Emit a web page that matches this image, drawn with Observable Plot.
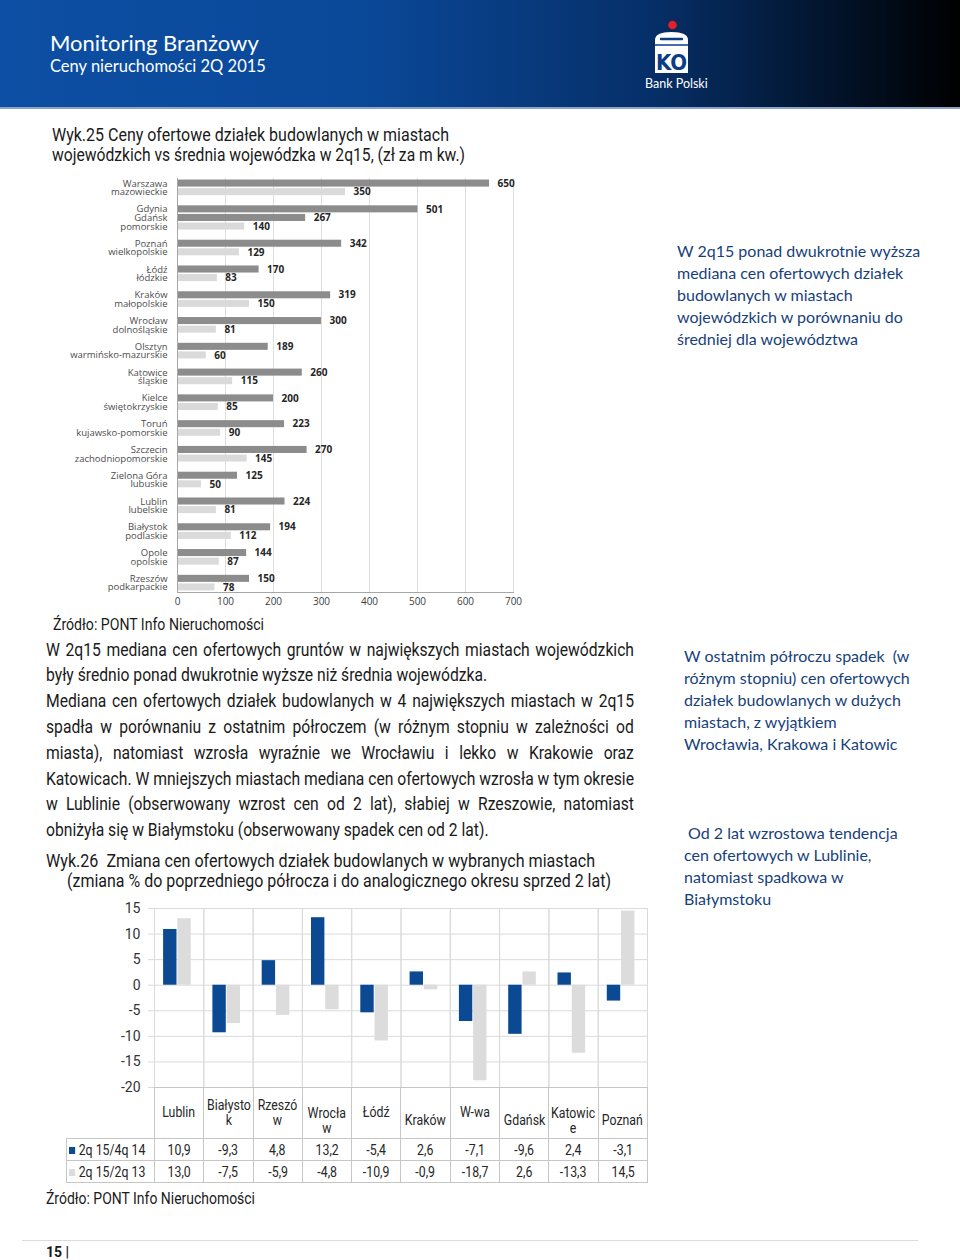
<!DOCTYPE html>
<html><head><meta charset="utf-8">
<script src="https://cdn.jsdelivr.net/npm/d3@7"></script>
<script src="https://cdn.jsdelivr.net/npm/@observablehq/plot@0.6"></script>
<style>
body{margin:0;background:#fff;}
#page{position:relative;width:960px;height:1260px;overflow:hidden;font-family:Roboto,"Open Sans",sans-serif;color:#1a1a1a;}
.abs{position:absolute;}
#header{left:0;top:0;width:960px;height:107px;background:linear-gradient(90deg,#0d4fa4 0%,#0a4898 38%,#062f68 68%,#000 100%);border-bottom:2px solid #8aa3c6;}
.hd{color:#fff;font-family:Lato,"Open Sans",sans-serif;white-space:nowrap;}
.fit{display:inline-block;white-space:nowrap;transform-origin:0 0;}
.title{font-size:18px;line-height:20px;}
.src{font-size:16px;line-height:20px;}
#body{left:46px;font-size:18px;line-height:25.8px;transform-origin:0 0;}
#body .line{white-space:nowrap;}
#body .j{display:flex;justify-content:space-between;}
.blue{font-family:Lato,"Open Sans",sans-serif;color:#173f7a;font-size:16px;line-height:22px;white-space:pre;}
#tbl{left:66px;top:1087px;width:581px;border-collapse:collapse;table-layout:fixed;font-size:14px;color:#262626;}
#tbl td{border:1px solid #c6c6c6;text-align:center;padding:0;white-space:nowrap;overflow:visible;}
#tbl td span.t{display:inline-block;transform:scaleX(0.88);}
#tbl td div.hc{height:50px;box-sizing:border-box;display:flex;flex-direction:column;justify-content:center;align-items:center;line-height:15.5px;}
#tbl tr.v td{height:21px;line-height:20px;}
#tbl td.lab{text-align:left;padding-left:2px;}
#tbl td.lab span.t{transform-origin:0 50%;}
.sq{display:inline-block;width:7px;height:7px;margin-right:4px;vertical-align:1px;}
</style>
</head><body>
<div id="page">
  <div id="header" class="abs"></div>
  <div class="abs hd" style="left:50px;top:30px;font-size:22px;line-height:26px;">Monitoring Branżowy</div>
  <div class="abs hd" style="left:50px;top:56px;font-size:16.5px;line-height:20px;">Ceny nieruchomości 2Q 2015</div>
  <svg class="abs" style="left:650px;top:18px" width="45" height="58" viewBox="0 0 45 58">
    <circle cx="22.5" cy="7" r="4.3" fill="#e3202a"/>
    <path d="M5,22 Q5,14 21.5,14 Q38,14 38,22 L38,55 L5,55 Z" fill="#fff"/>
    <path d="M11,21 L32,21" stroke="#0a3d86" stroke-width="2.4" stroke-linecap="round"/>
    <path d="M5,27 L38,27" stroke="#0a3d86" stroke-width="1.6"/>
    <text x="21.5" y="52" text-anchor="middle" font-family="DejaVu Sans Condensed, Roboto, sans-serif" font-weight="bold" font-size="22" fill="#0a3d86">KO</text>
  </svg>
  <div class="abs hd" style="left:645px;top:76px;font-size:12.5px;line-height:16px;">Bank Polski</div>

  <div class="abs title" style="left:52px;top:125px;"><span class="fit" data-w="397">Wyk.25 Ceny ofertowe działek budowlanych w miastach</span></div>
  <div class="abs title" style="left:52px;top:145px;"><span class="fit" data-w="413">wojewódzkich vs średnia wojewódzka w 2q15, (zł za m kw.)</span></div>
  <div id="chart25" class="abs" style="left:50px;top:172px;"></div>
  <div class="abs src" style="left:53px;top:615px;"><span class="fit" data-w="211">Źródło: PONT Info Nieruchomości</span></div>

  <div id="body" class="abs" style="top:636.6px;">
    <div class="line j">W 2q15 mediana cen ofertowych gruntów w największych miastach wojewódzkich</div>
    <div class="line">były średnio ponad dwukrotnie wyższe niż średnia wojewódzka.</div>
    <div class="line j">Mediana cen ofertowych działek budowlanych w 4 największych miastach w 2q15</div>
    <div class="line j">spadła w porównaniu z ostatnim półroczem (w różnym stopniu w zależności od</div>
    <div class="line j">miasta), natomiast wzrosła wyraźnie we Wrocławiu i lekko w Krakowie oraz</div>
    <div class="line j ref">Katowicach. W mniejszych miastach mediana cen ofertowych wzrosła w tym okresie</div>
    <div class="line j">w Lublinie (obserwowany wzrost cen od 2 lat), słabiej w Rzeszowie, natomiast</div>
    <div class="line">obniżyła się w Białymstoku (obserwowany spadek cen od 2 lat).</div>
  </div>

  <div class="abs title" style="left:46px;top:851px;"><span class="fit" data-w="549">Wyk.26&nbsp; Zmiana cen ofertowych działek budowlanych w wybranych miastach</span></div>
  <div class="abs title" style="left:67px;top:871px;"><span class="fit" data-w="544">(zmiana % do poprzedniego półrocza i do analogicznego okresu sprzed 2 lat)</span></div>
  <div id="chart26" class="abs" style="left:60px;top:898px;"></div>
  <table id="tbl" class="abs"></table>
  <div class="abs src" style="left:46px;top:1189px;"><span class="fit" data-w="209">Źródło: PONT Info Nieruchomości</span></div>

  <div class="abs blue" style="left:677px;top:240px;">W 2q15 ponad dwukrotnie wyższa
mediana cen ofertowych działek
budowlanych w miastach
wojewódzkich w porównaniu do
średniej dla województwa</div>
  <div class="abs blue" style="left:684px;top:645px;">W ostatnim półroczu spadek  (w
różnym stopniu) cen ofertowych
działek budowlanych w dużych
miastach, z wyjątkiem
Wrocławia, Krakowa i Katowic</div>
  <div class="abs blue" style="left:684px;top:822px;"> Od 2 lat wzrostowa tendencja
cen ofertowych w Lublinie,
natomiast spadkowa w
Białymstoku</div>

  <div class="abs" style="left:22px;top:1240px;width:896px;height:1px;background:#dcdcdc;"></div>
  <div class="abs" style="left:46px;top:1243px;font-size:14px;line-height:18px;font-weight:bold;">15 |</div>
</div>
<script>
// ---------- Wyk.25 data ----------
const rowLabels25 = ["Warszawa","mazowieckie","Gdynia","Gdańsk","pomorskie","Poznań","wielkopolskie","Łódź","łódzkie","Kraków","małopolskie","Wrocław","dolnośląskie","Olsztyn","warmińsko-mazurskie","Katowice","śląskie","Kielce","świętokrzyskie","Toruń","kujawsko-pomorskie","Szczecin","zachodniopomorskie","Zielona Góra","lubuskie","Lublin","lubelskie","Białystok","podlaskie","Opole","opolskie","Rzeszów","podkarpackie"];
const group25 = ["mazowieckie","mazowieckie","pomorskie","pomorskie","pomorskie","wielkopolskie","wielkopolskie","łódzkie","łódzkie","małopolskie","małopolskie","dolnośląskie","dolnośląskie","warmińsko-mazurskie","warmińsko-mazurskie","śląskie","śląskie","świętokrzyskie","świętokrzyskie","kujawsko-pomorskie","kujawsko-pomorskie","zachodniopomorskie","zachodniopomorskie","lubuskie","lubuskie","lubelskie","lubelskie","podlaskie","podlaskie","opolskie","opolskie","podkarpackie","podkarpackie"];
const values25 = [650,350,501,267,140,342,129,170,83,319,150,300,81,189,60,260,115,200,85,223,90,270,145,125,50,224,81,194,112,144,87,150,78];
const kinds25 = ["miasto","średnia wojewódzka"];
const xTicks25 = [0,100,200,300,400,500,600,700];

// ---------- Wyk.26 data ----------
const cities26 = ["Lublin","Białystok","Rzeszów","Wrocław","Łódź","Kraków","W-wa","Gdańsk","Katowice","Poznań"];
const headerLines26 = [["Lublin"],["Białysto","k"],["Rzeszó","w"],["Wrocła","w"],["Łódź"],["Kraków"],["W-wa"],["Gdańsk"],["Katowic","e"],["Poznań"]];
const headerLow26 = [false,false,false,true,false,true,false,true,true,true];
const series26 = ["2q 15/4q 14","2q 15/2q 13"];
const change4q14 = [10.9,-9.3,4.8,13.2,-5.4,2.6,-7.1,-9.6,2.4,-3.1];
const change2q13 = [13.0,-7.5,-5.9,-4.8,-10.9,-0.9,-18.7,2.6,-13.3,14.5];
const yTicks26 = [-20,-15,-10,-5,0,5,10,15];
const colors26 = ["#0b4a93","#dcdcdc"];

// ---------- text fitting (condensed look) ----------
document.querySelectorAll(".fit").forEach(el => {
  const w = el.getBoundingClientRect().width;
  el.style.transform = `scaleX(${(+el.dataset.w) / w})`;
});
(function () {
  const body = document.getElementById("body");
  const target = 588;
  const refLine = body.querySelector(".ref");
  const probe = document.createElement("span");
  probe.style.whiteSpace = "nowrap";
  probe.textContent = refLine.textContent;
  body.appendChild(probe);
  const natural = probe.getBoundingClientRect().width;
  probe.remove();
  const s = target / natural;
  body.style.width = (target / s) + "px";
  body.style.transform = `scaleX(${s})`;
  body.querySelectorAll(".j").forEach(line => {
    const words = line.textContent.trim().split(/\s+/);
    line.textContent = "";
    words.forEach(wd => { const sp = document.createElement("span"); sp.textContent = wd; line.appendChild(sp); });
  });
})();

// ---------- build Wyk.25 ----------
const keys25 = [], labelOf = {}, rows25 = [];
values25.forEach((v, i) => {
  if (i > 0 && group25[i] !== group25[i - 1]) keys25.push("gap" + i);
  const k = "r" + i;
  keys25.push(k);
  labelOf[k] = rowLabels25[i];
  const last = i === values25.length - 1 || group25[i + 1] !== group25[i];
  rows25.push({key: k, value: v, kind: last ? kinds25[1] : kinds25[0]});
});

const chart25 = Plot.plot({
  width: 480, height: 440,
  marginLeft: 127, marginRight: 17, marginTop: 6, marginBottom: 20,
  style: {fontFamily: "'Open Sans', Lato, sans-serif", fontSize: "10px", color: "#404040", background: "transparent"},
  x: {domain: [0, 700], label: null},
  y: {domain: keys25, padding: 0.18, round: false, label: null},
  color: {domain: kinds25, range: ["#8c8c8c", "#dadada"]},
  marks: [
    Plot.gridX(xTicks25.slice(1), {stroke: "#dedede", strokeOpacity: 1}),
    Plot.barX(rows25, {x: "value", y: "key", fill: "kind"}),
    Plot.text(rows25, {x: "value", y: "key", text: d => String(d.value), dx: 8, textAnchor: "start", fontWeight: "bold", fontSize: 10, fill: "#262626"}),
    Plot.ruleX([0], {stroke: "#a6a6a6"}),
    Plot.frame({anchor: "bottom", stroke: "#a6a6a6"}),
    Plot.axisX(xTicks25, {tickSize: 0, tickPadding: 5, label: null, fill: "#404040"}),
    Plot.axisY({tickSize: 0, tickPadding: 10, tickFormat: k => labelOf[k] ?? "", label: null, fill: "#4d4d4d", fontSize: 9.5})
  ]
});
document.getElementById("chart25").appendChild(chart25);

// ---------- build Wyk.26 ----------
const data26 = cities26.flatMap((c, i) => [
  {city: c, series: series26[0], value: change4q14[i]},
  {city: c, series: series26[1], value: change2q13[i]}
]);

const chart26 = Plot.plot({
  width: 590, height: 200,
  marginLeft: 94, marginRight: 3, marginTop: 10, marginBottom: 11,
  style: {fontFamily: "Roboto, 'Open Sans', sans-serif", fontSize: "14px", color: "#404040", background: "transparent"},
  fx: {domain: cities26, padding: 0, round: false, axis: null, label: null},
  x: {domain: series26, paddingInner: 0.06, paddingOuter: 0.76, align: 0.42, round: false, axis: null},
  y: {domain: [-20, 15], label: null},
  color: {domain: series26, range: colors26},
  marks: [
    Plot.gridY(yTicks26, {stroke: "#dadada", strokeOpacity: 1}),
    Plot.frame({anchor: "left", stroke: "#dadada"}),
    Plot.frame({anchor: "right", stroke: "#dadada"}),
    Plot.barY(data26, {fx: "city", x: "series", y: "value", fill: "series"}),
    Plot.axisY(yTicks26, {tickSize: 6, tickPadding: 8, stroke: "#dadada", fill: "#333", tickFormat: d => String(d), label: null, fontSize: 14})
  ]
});
document.getElementById("chart26").appendChild(chart26);

// ---------- data table under Wyk.26 ----------
const fmt = v => v.toFixed(1).replace(".", ",");
const tbl = document.getElementById("tbl");
const colgroup = document.createElement("colgroup");
const c0 = document.createElement("col"); c0.style.width = "88px"; colgroup.appendChild(c0);
const step = 493 / cities26.length;
cities26.forEach(() => { const c = document.createElement("col"); c.style.width = step + "px"; colgroup.appendChild(c); });
tbl.appendChild(colgroup);
const hr = document.createElement("tr");
const e = document.createElement("td"); e.style.border = "none"; e.style.borderRight = "1px solid #c6c6c6"; hr.appendChild(e);
headerLines26.forEach((lines, i) => {
  const td = document.createElement("td");
  td.innerHTML = `<div class="hc" style="padding-top:${headerLow26[i] ? 16 : 0}px"><span class="t">${lines.join("<br>")}</span></div>`;
  hr.appendChild(td);
});
tbl.appendChild(hr);
[change4q14, change2q13].forEach((vals, s) => {
  const tr = document.createElement("tr"); tr.className = "v";
  const lab = document.createElement("td"); lab.className = "lab";
  lab.innerHTML = `<span class="t"><span class="sq" style="background:${colors26[s]}"></span>${series26[s]}</span>`;
  tr.appendChild(lab);
  vals.forEach(v => { const td = document.createElement("td"); td.innerHTML = `<span class="t">${fmt(v)}</span>`; tr.appendChild(td); });
  tbl.appendChild(tr);
});
</script>
</body></html>
